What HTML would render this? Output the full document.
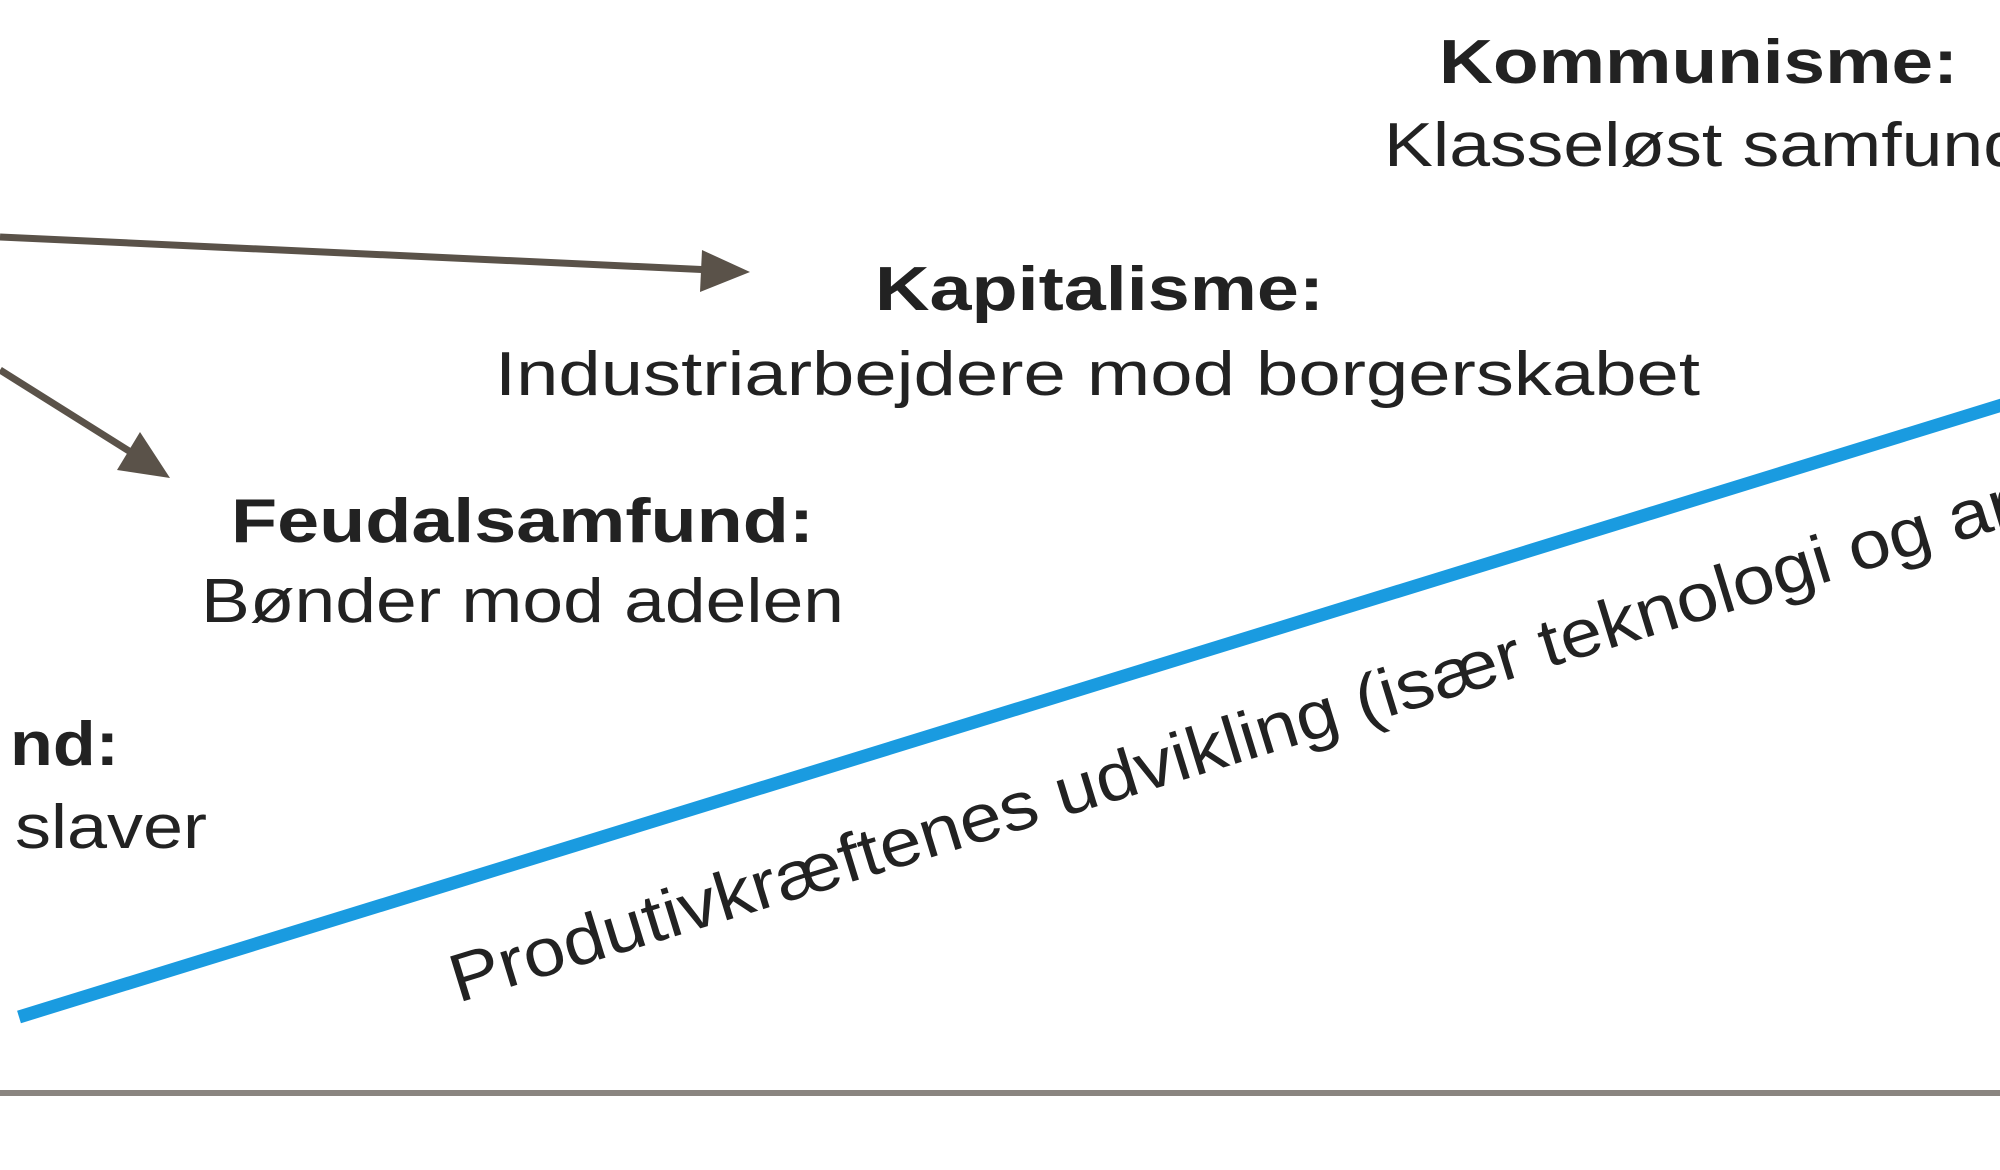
<!DOCTYPE html>
<html><head><meta charset="utf-8"><style>html,body{margin:0;padding:0;background:#fff;overflow:hidden}</style></head>
<body>
<svg width="2000" height="1165" viewBox="0 0 2000 1165" xmlns="http://www.w3.org/2000/svg" font-family="Liberation Sans, sans-serif" fill="#222">
<rect width="2000" height="1165" fill="#fff"/>
<line x1="0" y1="1093" x2="2000" y2="1093" stroke="#8a8580" stroke-width="6"/>
<line x1="19" y1="1017" x2="2005" y2="404" stroke="#1a9be0" stroke-width="13"/>
<line x1="0" y1="237" x2="712" y2="270" stroke="#5a5249" stroke-width="7"/>
<polygon points="750,272 702,250 700,292" fill="#5a5249"/>
<line x1="0" y1="370" x2="145" y2="461" stroke="#5a5249" stroke-width="7"/>
<polygon points="170,478 140,432 117,470" fill="#5a5249"/>
<text x="1439" y="83" font-size="62" font-weight="bold" textLength="519" lengthAdjust="spacingAndGlyphs">Kommunisme:</text>
<text x="1384" y="166" font-size="62" textLength="640" lengthAdjust="spacingAndGlyphs">Klasseløst samfund</text>
<text x="875" y="310" font-size="62" font-weight="bold" textLength="449" lengthAdjust="spacingAndGlyphs">Kapitalisme:</text>
<text x="495" y="395" font-size="62" textLength="1205" lengthAdjust="spacingAndGlyphs">Industriarbejdere mod borgerskabet</text>
<text x="231" y="542" font-size="62" font-weight="bold" textLength="583" lengthAdjust="spacingAndGlyphs">Feudalsamfund:</text>
<text x="201" y="622" font-size="62" textLength="643" lengthAdjust="spacingAndGlyphs">Bønder mod adelen</text>
<text x="10" y="765" font-size="62" font-weight="bold" textLength="109" lengthAdjust="spacingAndGlyphs">nd:</text>
<text x="15" y="848" font-size="62" textLength="192" lengthAdjust="spacingAndGlyphs">slaver</text>
<text transform="translate(458,1003) rotate(-17.1)" font-size="68" textLength="2040" lengthAdjust="spacingAndGlyphs">Produtivkræftenes udvikling (især teknologi og arbejdsdeling)</text>
</svg>
</body></html>
